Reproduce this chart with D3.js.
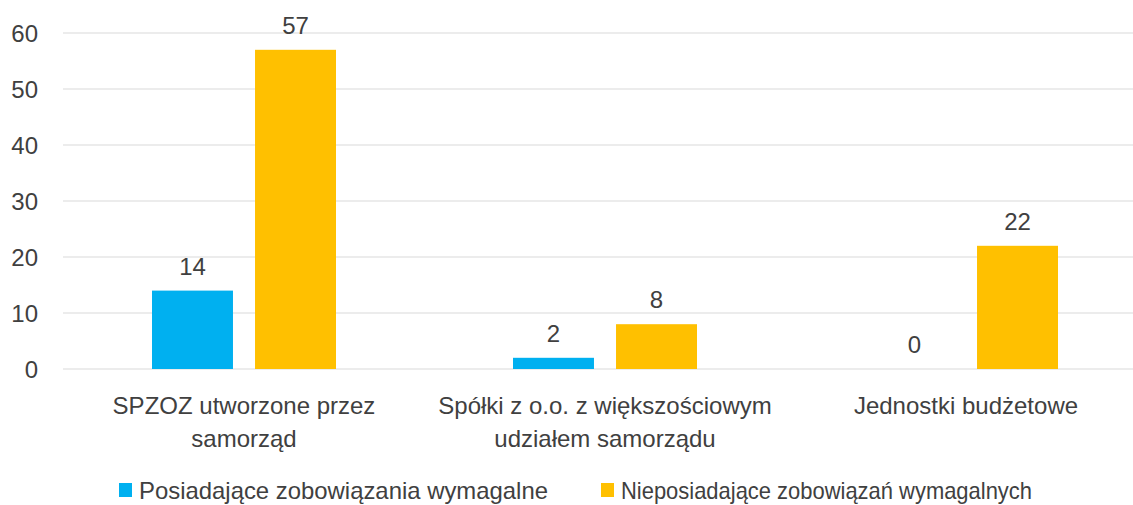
<!DOCTYPE html>
<html>
<head>
  <meta charset="utf-8">
  <title>Zobowiązania wymagalne</title>
  <script src="https://cdn.jsdelivr.net/npm/d3@7/dist/d3.min.js"></script>
  <style>
    body { margin: 0; background: #fff; }
    svg text {
      font-family: 'Liberation Sans', Arial, sans-serif;
      font-size: 24px;
      fill: #404040;
    }
  </style>
</head>
<body>
  <svg id="chart" width="1133" height="505"></svg>

  <script>
    // data
    var categories = ['SPZOZ', 'Spolki', 'Jednostki'];
    var categoryLabels = [
      ['SPZOZ utworzone przez', 'samorząd'],
      ['Spółki z o.o. z większościowym', 'udziałem samorządu'],
      ['Jednostki budżetowe']
    ];
    var seriesNames = ['Posiadające zobowiązania wymagalne', 'Nieposiadające zobowiązań wymagalnych'];
    var seriesColors = ['#00b0f0', '#ffc000'];
    var posiadajace = [14, 2, 0];
    var nieposiadajace = [57, 8, 22];
    var yTicks = [0, 10, 20, 30, 40, 50, 60];

    var svg = d3.select('#chart'),
      margin = { top: 33, right: -13, bottom: 136, left: 63 },
      width = +svg.attr('width') - margin.left - margin.right,
      height = +svg.attr('height') - margin.top - margin.bottom,
      g = svg.append('g').attr('transform', 'translate(' + margin.left + ',' + margin.top + ')');

    var x0 = d3.scaleBand()
      .domain(categories)
      .range([0, width]);

    var x1 = d3.scaleBand()
      .domain(seriesNames)
      .range([89, 273])
      .paddingInner(0.214);

    var y = d3.scaleLinear()
      .domain([0, 60])
      .range([height, 0]);

    // gridlines
    g.append('g')
      .selectAll('line')
      .data(yTicks)
      .join('line')
      .attr('x1', 0)
      .attr('x2', width)
      .attr('y1', d => y(d))
      .attr('y2', d => y(d))
      .attr('stroke', '#d9d9d9')
      .attr('stroke-width', 1);

    // y axis labels
    var yAxis = g.append('g')
      .attr('transform', 'translate(-25,0)')
      .call(d3.axisLeft(y).tickValues(yTicks).tickSize(0).tickPadding(0));
    yAxis.select('.domain').remove();
    yAxis.selectAll('text')
      .attr('fill', '#404040')
      .style('font-size', '24px')
      .attr('dy', '0.35em');

    var rows = categories.map((c, i) => ({ cat: c, values: [posiadajace[i], nieposiadajace[i]] }));

    var groups = g.selectAll('.cat')
      .data(rows)
      .join('g')
      .attr('class', 'cat')
      .attr('transform', d => 'translate(' + x0(d.cat) + ',0)');

    groups.selectAll('rect')
      .data(d => d.values.map((v, j) => ({ s: seriesNames[j], v: v, c: seriesColors[j] })))
      .join('rect')
      .attr('x', d => x1(d.s))
      .attr('width', x1.bandwidth())
      .attr('y', d => y(d.v))
      .attr('height', d => height - y(d.v))
      .attr('fill', d => d.c);

    groups.selectAll('.val')
      .data(d => d.values.map((v, j) => ({ s: seriesNames[j], v: v })))
      .join('text')
      .attr('class', 'val')
      .attr('x', d => x1(d.s) + x1.bandwidth() / 2)
      .attr('y', d => y(d.v) - 16)
      .attr('text-anchor', 'middle')
      .text(d => d.v);

    // category labels
    var mid = (x1.range()[0] + x1.range()[1]) / 2;
    groups.append('text')
      .attr('text-anchor', 'middle')
      .attr('x', mid)
      .attr('y', height + 45)
      .selectAll('tspan')
      .data((d, i) => categoryLabels[i])
      .join('tspan')
      .attr('x', mid)
      .attr('dy', (d, i) => i ? 33 : 0)
      .text(d => d);

    // legend (second entry is squeezed in the original)
    var legendX = [119, 601];
    var legendLen = [409, 411];
    var legend = svg.append('g')
      .selectAll('g')
      .data(seriesNames)
      .join('g')
      .attr('transform', (d, i) => 'translate(' + legendX[i] + ',483)');

    legend.append('rect')
      .attr('width', 13)
      .attr('height', 14)
      .attr('fill', (d, i) => seriesColors[i]);

    legend.append('text')
      .attr('x', 20)
      .attr('y', 16)
      .attr('textLength', (d, i) => legendLen[i])
      .attr('lengthAdjust', 'spacingAndGlyphs')
      .text(d => d);
  </script>
</body>
</html>
